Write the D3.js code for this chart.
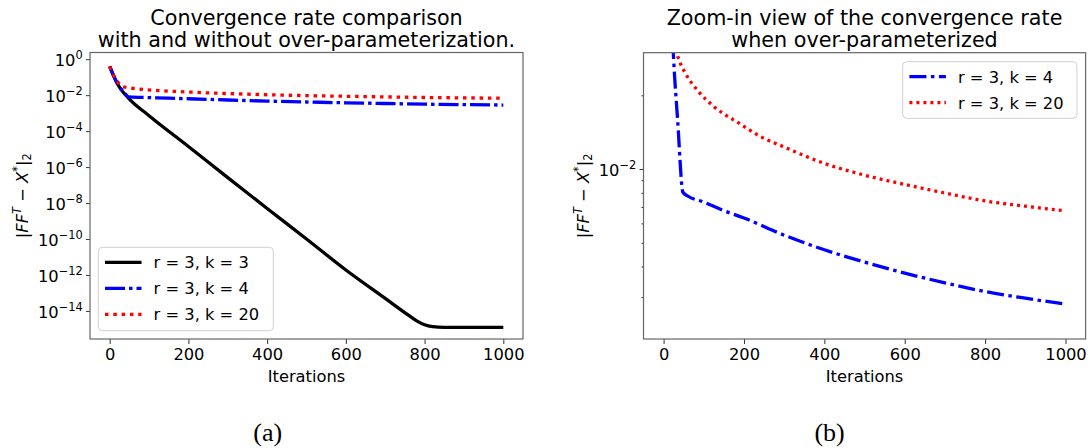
<!DOCTYPE html>
<html>
<head>
<meta charset="utf-8">
<title>Convergence rate comparison</title>
<script src="https://d3js.org/d3.v7.min.js"></script>
<style>
  body { margin: 0; background: #fff; }
  text { font-family: "DejaVu Sans", sans-serif; }
</style>
</head>
<body>
<div id="chart"></div>
<script>
// values (error norm per iteration)
var itersK3 = [0, 5, 10, 20, 30, 40, 50, 100, 200, 300, 400, 500, 600, 700, 760, 780, 800, 820, 850, 1000];
var errK3 = [0.40, 0.22, 0.117, 0.042, 0.019, 0.0105, 0.0060, 7.2e-4, 1.4e-5, 2.6e-7, 5.0e-9,
             1.0e-10, 1.9e-12, 5.0e-14, 5.6e-15, 2.8e-15, 1.7e-15, 1.35e-15, 1.23e-15, 1.23e-15];

var itersK4 = [0, 10, 20, 25, 35, 48, 60, 100, 150, 200, 300, 400, 500, 600, 700, 800, 900, 1000];
var errK4 = [0.40, 0.117, 0.042, 0.028, 0.0158, 0.00804, 0.00776, 0.00733, 0.00676, 0.00631,
             0.00537, 0.00468, 0.00417, 0.00376, 0.00343, 0.00316, 0.00297, 0.00281];

var itersK20 = [0, 10, 20, 30, 40, 55, 85, 125, 190, 240, 300, 400, 500, 600, 700, 800, 900, 1000];
var errK20 = [0.40, 0.126, 0.056, 0.0316, 0.0275, 0.0245, 0.0209, 0.0180, 0.0153, 0.0136,
              0.0123, 0.01054, 0.00944, 0.00865, 0.00798, 0.00741, 0.00705, 0.00675];

var seriesLabels = ["r = 3, k = 3", "r = 3, k = 4", "r = 3, k = 20"];
var xTicks = [0, 200, 400, 600, 800, 1000];
var leftYTicks = [1, 1e-2, 1e-4, 1e-6, 1e-8, 1e-10, 1e-12, 1e-14];
var rightYTicks = [1e-2];
var rightMinorTicks = [2e-2, 9e-3, 8e-3, 7e-3, 6e-3, 5e-3, 4e-3, 3e-3];

var width = 1091, height = 448;
var fontSize = 16.3;

var svg = d3.select("#chart").append("svg")
    .attr("width", width)
    .attr("height", height);

function series(k) {
    if (k === 3) return d3.zip(itersK3, errK3);
    if (k === 4) return d3.zip(itersK4, errK4);
    return d3.zip(itersK20, errK20);
}

// superscript exponent label like 10^-2
function powLabel(sel, exp) {
    sel.append("tspan").text("10");
    sel.append("tspan")
        .attr("font-size", fontSize * 0.7)
        .attr("dy", -7)
        .text(exp === 0 ? "0" : "\u2212" + Math.abs(exp));
}

function drawPanel(p) {
    var g = svg.append("g");
    var x = d3.scaleLinear().domain([-50, 1050]).range([p.left, p.right]);
    var y = d3.scaleLog().domain(p.yDomain).range([p.bottom, p.top]);

    svg.append("clipPath").attr("id", "clip" + p.id)
        .append("rect")
        .attr("x", p.left).attr("y", p.top)
        .attr("width", p.right - p.left).attr("height", p.bottom - p.top);

    var line = d3.line()
        .x(function(d) { return x(d[0]); })
        .y(function(d) { return y(d[1]); })
        .curve(d3.curveMonotoneX);

    p.lines.forEach(function(s) {
        g.append("path")
            .datum(series(s.k))
            .attr("clip-path", "url(#clip" + p.id + ")")
            .attr("d", line)
            .attr("fill", "none")
            .attr("stroke", s.color)
            .attr("stroke-width", 3.3)
            .attr("stroke-dasharray", s.dash);
    });

    // x axis
    var gx = g.append("g")
        .attr("transform", "translate(0," + p.bottom + ")")
        .call(d3.axisBottom(x).tickValues(xTicks).tickFormat(d3.format("d"))
            .tickSize(5).tickPadding(4.4).tickSizeOuter(0));
    gx.select(".domain").remove();
    gx.selectAll("line").attr("stroke", "#333");
    gx.selectAll("text")
        .attr("font-size", fontSize)
        .attr("fill", "#000");

    // y axis, major ticks
    var gy = g.append("g")
        .attr("transform", "translate(" + p.left + ",0)")
        .call(d3.axisLeft(y).tickValues(p.yTicks).tickSize(4).tickFormat("").tickSizeOuter(0));
    gy.select(".domain").remove();
    gy.selectAll("line").attr("stroke", "#333");
    gy.selectAll(".tick text").remove();
    gy.selectAll(".tick").append("text")
        .attr("x", -7.3)
        .attr("y", 6.7)
        .attr("text-anchor", "end")
        .attr("font-size", fontSize)
        .attr("fill", "#000")
        .each(function(d) { powLabel(d3.select(this), Math.round(Math.log10(d))); });

    if (p.minor) {
        var gm = g.append("g")
            .attr("transform", "translate(" + p.left + ",0)")
            .call(d3.axisLeft(y).tickValues(p.minor).tickSize(2).tickFormat("").tickSizeOuter(0));
        gm.select(".domain").remove();
        gm.selectAll("line").attr("stroke", "#333");
    }

    // frame
    g.append("rect")
        .attr("x", p.left).attr("y", p.top)
        .attr("width", p.right - p.left).attr("height", p.bottom - p.top)
        .attr("fill", "none")
        .attr("stroke", "#666")
        .attr("stroke-width", 1.2);

    // title
    var cx = (p.left + p.right) / 2;
    p.title.forEach(function(t, i) {
        g.append("text")
            .attr("x", cx).attr("y", 25 + i * 22)
            .attr("text-anchor", "middle")
            .attr("font-size", 20.7)
            .text(t);
    });

    // x label
    g.append("text")
        .attr("x", cx).attr("y", 381.7)
        .attr("text-anchor", "middle")
        .attr("font-size", fontSize)
        .text("Iterations");

    // y label |FF^T - X^*|_2
    var yl = g.append("text")
        .attr("transform", "translate(" + p.ylabelX + "," + (p.top + p.bottom) / 2 + ") rotate(-90)")
        .attr("text-anchor", "middle")
        .attr("font-size", fontSize);
    yl.append("tspan").text("|");
    yl.append("tspan").attr("font-style", "italic").text("FF");
    yl.append("tspan").attr("font-style", "italic").attr("font-size", fontSize * 0.7).attr("dy", -7).text("T");
    yl.append("tspan").attr("dy", 7).text(" \u2212 ");
    yl.append("tspan").attr("font-style", "italic").text("X");
    yl.append("tspan").attr("font-size", fontSize * 0.7).attr("dy", -7).text("*");
    yl.append("tspan").attr("dy", 7).text("|");
    yl.append("tspan").attr("font-size", fontSize * 0.7).attr("dy", 3).text("2");

    // legend
    var lg = g.append("g").attr("transform", "translate(" + p.legend.x + "," + p.legend.y + ")");
    lg.append("rect")
        .attr("width", p.legend.w).attr("height", p.legend.h)
        .attr("rx", 4)
        .attr("fill", "#fff").attr("fill-opacity", 0.8)
        .attr("stroke", "#d0d0d0");
    p.lines.forEach(function(s, i) {
        var ry = 15 + i * 26;
        lg.append("line")
            .attr("x1", 6.7).attr("x2", 43.2)
            .attr("y1", ry).attr("y2", ry)
            .attr("stroke", s.color)
            .attr("stroke-width", 3.3)
            .attr("stroke-dasharray", s.dash);
        lg.append("text")
            .attr("x", 55.3).attr("y", ry + 6)
            .attr("font-size", fontSize)
            .text(s.label);
    });

    // caption
    svg.append("text")
        .attr("x", p.captionX).attr("y", 441)
        .attr("text-anchor", "middle")
        .style("font-family", "'Liberation Serif', serif")
        .attr("font-size", 26)
        .text(p.caption);
}

drawPanel({
    id: "a",
    left: 90, right: 523, top: 52.5, bottom: 339,
    yDomain: [Math.pow(10, -15.56), Math.pow(10, 0.372)],
    yTicks: leftYTicks,
    title: ["Convergence rate comparison", "with and without over-parameterization."],
    ylabelX: 28,
    lines: [
        { k: 3, color: "#000000", dash: null, label: seriesLabels[0] },
        { k: 4, color: "#0000ff", dash: "20,4,3.5,4", label: seriesLabels[1] },
        { k: 20, color: "#ff0000", dash: "3.5,4.8", label: seriesLabels[2] }
    ],
    legend: { x: 98.3, y: 247.3, w: 175, h: 83.4 },
    caption: "(a)", captionX: 267.7
});

drawPanel({
    id: "b",
    left: 643.5, right: 1085.6, top: 52.7, bottom: 339,
    yDomain: [Math.pow(10, -2.694), Math.pow(10, -1.525)],
    yTicks: rightYTicks,
    minor: rightMinorTicks,
    title: ["Zoom-in view of the convergence rate", "when over-parameterized"],
    ylabelX: 589,
    lines: [
        { k: 4, color: "#0000ff", dash: "17,4.5,3.5,4.5", label: seriesLabels[1] },
        { k: 20, color: "#ff0000", dash: "3,4", label: seriesLabels[2] }
    ],
    legend: { x: 902.7, y: 61.7, w: 174.3, h: 56.6 },
    caption: "(b)", captionX: 829.6
});
</script>
</body>
</html>
